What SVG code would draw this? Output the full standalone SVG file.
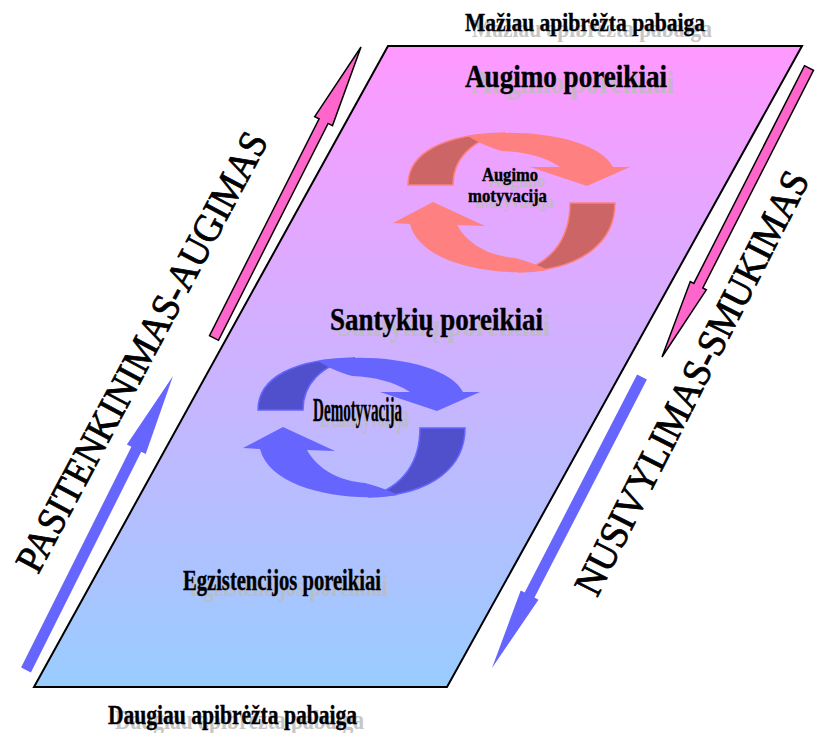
<svg xmlns="http://www.w3.org/2000/svg" width="817" height="733" viewBox="0 0 817 733">
<defs>
<linearGradient id="bg" gradientUnits="userSpaceOnUse" x1="0" y1="46" x2="0" y2="687">
<stop offset="0" stop-color="#FF99FF"/>
<stop offset="1" stop-color="#99CCFF"/>
</linearGradient>
<style>
.lbl{font-family:"Liberation Serif","Times New Roman",serif;font-weight:bold;fill:#000;stroke:#001;stroke-width:0.4}
.sh{font-family:"Liberation Serif","Times New Roman",serif;font-weight:bold;fill:#BDBDBD;opacity:0.85}
.side{font-family:"Liberation Serif","Times New Roman",serif;font-weight:normal;fill:#000;stroke:#000;stroke-width:0.8}
.pink{fill:#FF66CC;stroke:#000;stroke-width:1.5;stroke-linejoin:miter}
.blue{fill:#6666FF;stroke:none}
.rl{fill:#FF8080}
.rd{fill:#CC6666;stroke:#FF8080;stroke-width:1.5}
.bl{fill:#6666FF}
.bd{fill:#5050CC;stroke:#6666FF;stroke-width:1.5}
</style>
</defs>

<g id="area">
<polygon points="388,46 802,46 447,687 34,687" fill="url(#bg)" stroke="#000" stroke-width="2"/>
</g>

<g id="connectors">
<polygon class="pink" points="361,47 332.5,125.6 328.1,123.4 218.5,340.3 209.5,335.7 319.1,118.8 314.7,116.6"/>
<polygon class="blue" points="173,376 145.7,454 141.2,451.8 30.9,672.5 21.1,667.5 131.4,446.8 126.9,444.6"/>
<polygon class="pink" points="662,357 706.3,289.8 702.8,288 813.5,70.3 804.5,65.7 693.8,283.4 690.3,281.6"/>
<polygon class="blue" points="492,668 538.5,599.7 534.5,597.6 646.9,379.5 637.1,374.5 524.7,592.6 520.7,590.5"/>
</g>

<g id="cycle-growth">
<path class="rd" d="M408,185 C408,152 445,134 505,133 C470,140 453,160 453,185 Z"/>
<path class="rl" d="M468,136 C530,126 600,140 613,167 L630,167 L587,186 L530,167 L560,167 C545,157 525,152 502,151 C488,147 477,142 468,136 Z"/>
<path class="rd" d="M615,203 C615,240 585,270 518,272 C555,262 570,235 570,203 Z"/>
<path class="rl" d="M393,223 L433,202 L485,226 L457,225 C468,245 490,256 515,258 C530,262 540,266 548,270 C495,278 420,264 410,224 Z"/>
</g>

<g id="cycle-demotivation" transform="translate(-150,225)">
<path class="bd" d="M408,185 C408,152 445,134 505,133 C470,140 453,160 453,185 Z"/>
<path class="bl" d="M468,136 C530,126 600,140 613,167 L630,167 L587,186 L530,167 L560,167 C545,157 525,152 502,151 C488,147 477,142 468,136 Z"/>
<path class="bd" d="M615,203 C615,240 585,270 518,272 C555,262 570,235 570,203 Z"/>
<path class="bl" d="M393,223 L433,202 L485,226 L457,225 C468,245 490,256 515,258 C530,262 540,266 548,270 C495,278 420,264 410,224 Z"/>
</g>

<g id="label-top">
<text class="sh" x="472" y="37" font-size="26" textLength="240" lengthAdjust="spacingAndGlyphs">Mažiau apibrėžta pabaiga</text>
<text class="lbl" x="465" y="31" font-size="26" textLength="240" lengthAdjust="spacingAndGlyphs">Mažiau apibrėžta pabaiga</text>
</g>

<g id="growth-needs">
<text class="sh" x="472" y="93" font-size="31" textLength="202" lengthAdjust="spacingAndGlyphs">Augimo poreikiai</text>
<text class="lbl" x="465" y="87" font-size="31" textLength="202" lengthAdjust="spacingAndGlyphs">Augimo poreikiai</text>
</g>

<g id="growth-motivation">
<text class="sh" x="489" y="187" font-size="19" textLength="56" lengthAdjust="spacingAndGlyphs">Augimo</text>
<text class="sh" x="475" y="208" font-size="19" textLength="79" lengthAdjust="spacingAndGlyphs">motyvacija</text>
<text class="lbl" x="482" y="181" font-size="19" textLength="56" lengthAdjust="spacingAndGlyphs">Augimo</text>
<text class="lbl" x="468" y="202" font-size="19" textLength="79" lengthAdjust="spacingAndGlyphs">motyvacija</text>
</g>

<g id="relation-needs">
<text class="sh" x="337" y="336" font-size="31" textLength="213" lengthAdjust="spacingAndGlyphs">Santykių poreikiai</text>
<text class="lbl" x="330" y="330" font-size="31" textLength="213" lengthAdjust="spacingAndGlyphs">Santykių poreikiai</text>
</g>

<g id="demotivation">
<text class="sh" x="320" y="427" font-size="34" textLength="89" lengthAdjust="spacingAndGlyphs">Demotyvacija</text>
<text class="lbl" x="313" y="421" font-size="34" textLength="89" lengthAdjust="spacingAndGlyphs">Demotyvacija</text>
</g>

<g id="existence-needs">
<text class="sh" x="190" y="596" font-size="29" textLength="198" lengthAdjust="spacingAndGlyphs">Egzistencijos poreikiai</text>
<text class="lbl" x="183" y="590" font-size="29" textLength="198" lengthAdjust="spacingAndGlyphs">Egzistencijos poreikiai</text>
</g>

<g id="label-bottom">
<text class="sh" x="115" y="729" font-size="27" textLength="249" lengthAdjust="spacingAndGlyphs">Daugiau apibrėžta pabaiga</text>
<text class="lbl" x="108" y="724" font-size="27" textLength="249" lengthAdjust="spacingAndGlyphs">Daugiau apibrėžta pabaiga</text>
</g>

<g id="satisfaction">
<text class="side" transform="translate(142,352) rotate(-62)" x="0" y="13" font-size="40" text-anchor="middle" textLength="492" lengthAdjust="spacingAndGlyphs">PASITENKINIMAS-AUGIMAS</text>
</g>

<g id="frustration">
<text class="side" transform="translate(692,383) rotate(-63)" x="0" y="13" font-size="40" text-anchor="middle" textLength="470" lengthAdjust="spacingAndGlyphs">NUSIVYLIMAS-SMUKIMAS</text>
</g>
</svg>
